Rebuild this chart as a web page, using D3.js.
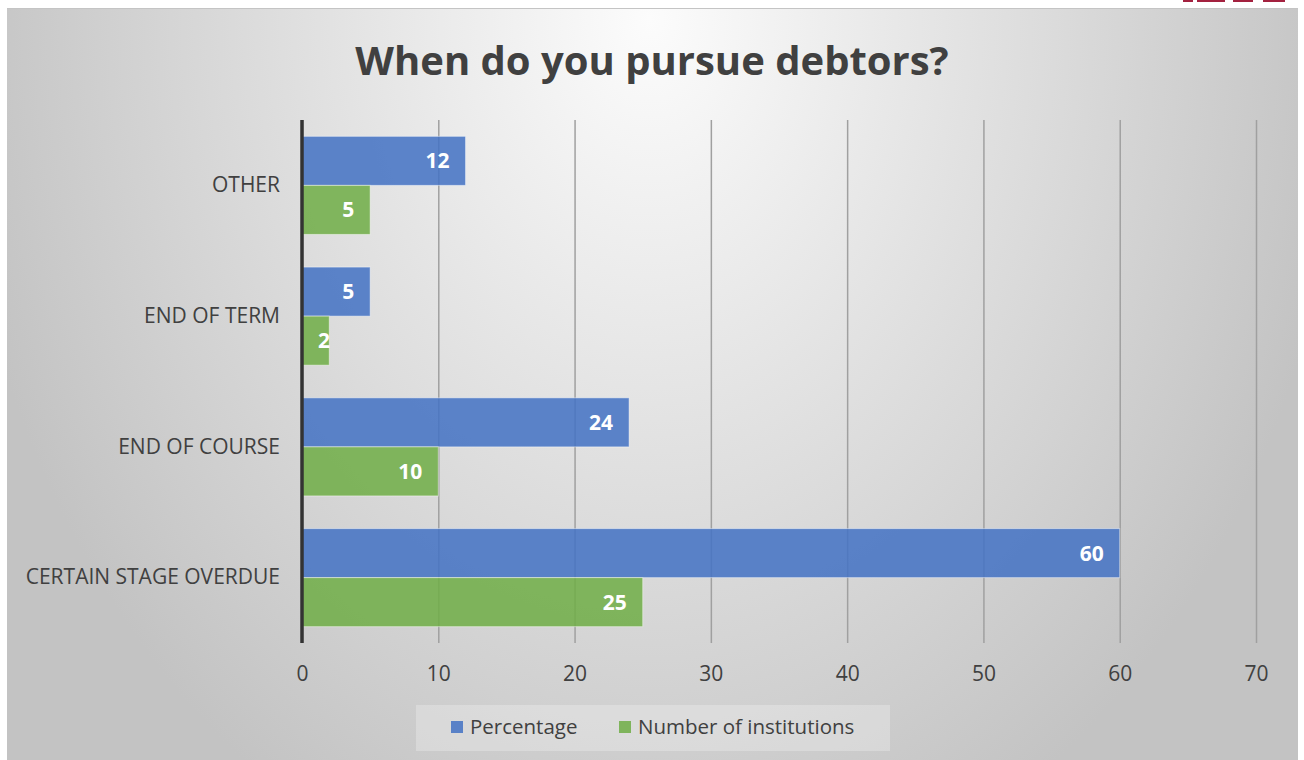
<!DOCTYPE html>
<html>
<head>
<meta charset="utf-8">
<script src="https://cdn.jsdelivr.net/npm/d3@7"></script>
<style>
  html, body { margin: 0; padding: 0; background: #ffffff; }
  svg { display: block; }
  text { font-family: "Open Sans", "Noto Sans", sans-serif; }
</style>
</head>
<body>
<svg id="chart" width="1304" height="760"></svg>
<script>
// Survey answers, listed top to bottom as shown on the chart
const categories = ["OTHER", "END OF TERM", "END OF COURSE", "CERTAIN STAGE OVERDUE"];
const seriesNames = ["Percentage", "Number of institutions"];
const percentage = [12, 5, 24, 60];
const institutions = [5, 2, 10, 25];
const xTicks = [0, 10, 20, 30, 40, 50, 60, 70];
const seriesColors = ["#4472C4", "#70AD47"];
const titleText = "When do you pursue debtors?";

const svg = d3.select("#chart");
const W = 1304, H = 760;

// Chart area background: soft radial gradient, light at the top centre
const defs = svg.append("defs");
const grad = defs.append("radialGradient")
  .attr("id", "bg")
  .attr("gradientUnits", "userSpaceOnUse")
  .attr("cx", 650).attr("cy", 20).attr("r", 700)
  .attr("gradientTransform", "translate(650,20) scale(1,1.3) translate(-650,-20)");
grad.append("stop").attr("offset", 0).attr("stop-color", "#fcfcfc");
grad.append("stop").attr("offset", 1).attr("stop-color", "#c3c3c3");

svg.append("rect").attr("x", 0).attr("y", 0).attr("width", W).attr("height", H).attr("fill", "#ffffff");
svg.append("rect").attr("x", 7).attr("y", 8).attr("width", 1291).attr("height", 752).attr("fill", "url(#bg)");
svg.append("line").attr("x1", 7).attr("x2", 1298).attr("y1", 8.5).attr("y2", 8.5)
  .attr("stroke", "#c4c4c4").attr("stroke-width", 1);

// Small slide accent pieces along the top edge
const accents = [[1183, 10], [1197, 28], [1233, 20], [1263, 22]];
svg.selectAll("rect.accent").data(accents).join("rect")
  .attr("class", "accent")
  .attr("x", d => d[0]).attr("y", 0).attr("width", d => d[1]).attr("height", 2)
  .attr("fill", "#a3213f");

// Title
svg.append("text")
  .attr("x", 652).attr("y", 75)
  .attr("text-anchor", "middle")
  .attr("font-size", 40).attr("font-weight", 700)
  .attr("fill", "#404040")
  .text(titleText);

// Scales
const plot = { left: 302, right: 1256, top: 120, bottom: 643 };
const x = d3.scaleLinear().domain([0, 70]).range([plot.left, plot.right]);
const y = d3.scaleBand().domain(categories).range([plot.top, plot.bottom])
  .paddingInner(0.25).paddingOuter(0.125);
const ySub = d3.scaleBand().domain(seriesNames).range([0, y.bandwidth()]);

// Vertical gridlines (drawn through the axis tick positions)
const grid = svg.append("g")
  .attr("transform", `translate(0,${plot.bottom})`)
  .call(d3.axisBottom(x).tickValues(xTicks).tickSize(-(plot.bottom - plot.top)).tickFormat(""));
grid.select(".domain").remove();
grid.selectAll(".tick line").attr("stroke", "#a0a0a0").attr("stroke-width", 1.5);

// Tick labels
const xAxis = svg.append("g")
  .attr("transform", `translate(0,${plot.bottom})`)
  .call(d3.axisBottom(x).tickValues(xTicks).tickSize(0).tickPadding(23));
xAxis.select(".domain").remove();
xAxis.selectAll("text")
  .attr("font-size", 21).attr("fill", "#404040")
  .style("font-family", "'Open Sans', sans-serif");

// Bars
const rows = categories.map((c, i) => ({
  cat: c,
  vals: [
    { name: seriesNames[0], v: percentage[i], color: seriesColors[0] },
    { name: seriesNames[1], v: institutions[i], color: seriesColors[1] }
  ]
}));

const groups = svg.selectAll("g.cat").data(rows).join("g")
  .attr("class", "cat")
  .attr("transform", d => `translate(0,${y(d.cat)})`);

groups.selectAll("rect").data(d => d.vals).join("rect")
  .attr("x", x(0))
  .attr("y", d => ySub(d.name))
  .attr("width", d => x(d.v) - x(0))
  .attr("height", ySub.bandwidth())
  .attr("fill", d => d.color)
  .attr("fill-opacity", 0.86)
  .attr("stroke", "#ffffff")
  .attr("stroke-opacity", 0.45)
  .attr("stroke-width", 1);

// Value labels inside the bar ends
groups.selectAll("text").data(d => d.vals).join("text")
  .attr("x", d => Math.max(x(d.v) - 16, x(0) + 28))
  .attr("y", d => ySub(d.name) + ySub.bandwidth() / 2)
  .attr("dy", "0.36em")
  .attr("text-anchor", "end")
  .attr("font-size", 21).attr("font-weight", 700)
  .attr("fill", "#ffffff")
  .text(d => d.v);

// Category axis
const yAxis = svg.append("g")
  .attr("transform", `translate(${plot.left},0)`)
  .call(d3.axisLeft(y).tickSize(0).tickPadding(22));
yAxis.select(".domain").remove();
yAxis.selectAll("text")
  .attr("font-size", 21).attr("fill", "#404040")
  .style("font-family", "'Open Sans', sans-serif");
svg.append("line")
  .attr("x1", x(0)).attr("x2", x(0))
  .attr("y1", plot.top).attr("y2", plot.bottom)
  .attr("stroke", "#333333").attr("stroke-width", 3.5);

// Legend
const legend = svg.append("g");
legend.append("rect")
  .attr("x", 416).attr("y", 705).attr("width", 474).attr("height", 46)
  .attr("fill", "#ffffff").attr("fill-opacity", 0.25);
const legendItems = [
  { name: seriesNames[0], color: seriesColors[0], x: 451 },
  { name: seriesNames[1], color: seriesColors[1], x: 619 }
];
const li = legend.selectAll("g.item").data(legendItems).join("g")
  .attr("class", "item")
  .attr("transform", d => `translate(${d.x},727)`);
li.append("rect")
  .attr("x", 0).attr("y", -6).attr("width", 12).attr("height", 12)
  .attr("fill", d => d.color).attr("fill-opacity", 0.86);
li.append("text")
  .attr("x", 19).attr("dy", "0.35em")
  .attr("font-size", 20.5).attr("fill", "#404040")
  .text(d => d.name);
</script>
</body>
</html>
